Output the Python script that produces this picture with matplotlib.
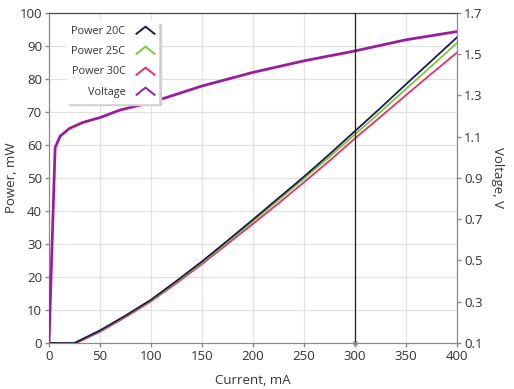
import matplotlib
matplotlib.use('Agg')
import matplotlib.pyplot as plt
from matplotlib.lines import Line2D
from matplotlib.path import Path

plt.rcParams['font.family'] = ['Open Sans', 'DejaVu Sans']

# Power vs current (mA -> mW)
current = [0, 25, 50, 75, 100, 125, 150, 175, 200, 225, 250, 275, 300, 325, 350, 375, 400]
power_20c = [0, 0, 3.8, 8.3, 13.1, 18.8, 24.7, 31.0, 37.4, 43.9, 50.4, 57.2, 64.2, 71.2, 78.4, 85.5, 92.6]
power_25c = [0, 0, 3.7, 8.1, 12.9, 18.5, 24.4, 30.6, 36.9, 43.3, 49.8, 56.4, 63.2, 70.0, 77.0, 83.9, 90.9]
current_30c = [0, 27, 50, 75, 100, 125, 150, 175, 200, 225, 250, 275, 300, 325, 350, 375, 400]
power_30c = [0, 0, 3.4, 7.8, 12.6, 18.1, 23.9, 30.0, 36.1, 42.3, 48.7, 55.2, 62.0, 68.5, 75.1, 81.6, 88.0]

# Voltage vs current (mA -> V)
current_v = [0, 6, 11, 20, 33, 50, 70, 100, 150, 200, 250, 300, 350, 400]
voltage = [0.10, 1.047, 1.103, 1.140, 1.169, 1.193, 1.230, 1.266, 1.346, 1.412, 1.468, 1.516, 1.570, 1.610]

cursor_x = 300

col_20 = '#1b1b4d'
col_25 = '#7cc63a'
col_30 = '#e0336e'
col_v = '#9a1d9e'
txt = '#333333'
spine = '#8a8a8a'

fig = plt.figure(figsize=(5.14, 3.89), dpi=100)
ax = fig.add_axes([0.0953, 0.1183, 0.7937, 0.8483])
ax2 = ax.twinx()

ax.set_xlim(0, 400)
ax.set_ylim(0, 100)
ax2.set_ylim(0.1, 1.7)

ax.set_xticks(range(0, 401, 50))
ax.set_yticks(range(0, 101, 10))
ax2.set_yticks([0.1, 0.3, 0.5, 0.7, 0.9, 1.1, 1.3, 1.5, 1.7])
ax2.set_yticklabels(['0.1', '0.3', '0.5', '0.7', '0.9', '1.1', '1.3', '1.5', '1.7'])

ax.grid(True, color='#e2e2e2', lw=0.9)
ax.set_axisbelow(True)

ax.plot(current_30c, power_30c, color=col_30, lw=1.3, zorder=3)
ax.plot(current, power_25c, color=col_25, lw=1.3, zorder=4)
ax.plot(current, power_20c, color=col_20, lw=1.3, zorder=5)
ax2.plot(current_v, voltage, color=col_v, lw=2.0, zorder=5)

ax2.axvline(cursor_x, color='#222222', lw=0.9, zorder=6)
ax2.plot([cursor_x], [0.1], marker='x', ms=3, color='#888888', clip_on=False, zorder=6)

for a in (ax, ax2):
    for s in a.spines.values():
        s.set_color(spine)
    a.spines['top'].set_color('#444444')
    a.tick_params(colors=spine, labelcolor=txt, labelsize=9.5, length=3, width=1, pad=2)

ax.set_xlabel('Current, mA', color=txt, fontsize=9.5)
ax.xaxis.set_label_coords(0.5, -0.095)
ax.set_ylabel('Power, mW', color=txt, fontsize=9.5)
ax.yaxis.set_label_coords(-0.075, 0.5)
ax2.set_ylabel('Voltage, V', color=txt, fontsize=9.5, rotation=270, va='center')
ax2.yaxis.set_label_coords(1.1, 0.5)

# legend with chevron glyphs
chev = Path([(-1, -0.4), (0, 0.4), (1, -0.4)], [Path.MOVETO, Path.LINETO, Path.LINETO])
names = ['Power 20C', 'Power 25C', 'Power 30C', 'Voltage']
cols = [col_20, col_25, col_30, col_v]
handles = [Line2D([], [], ls='none', marker=chev, ms=14, mfc='none', mec=c, mew=1.4) for c in cols]
leg = ax2.legend(handles, names, loc='upper left', bbox_to_anchor=(0.035, 0.985), markerfirst=False,
                 frameon=True, fancybox=False, shadow={'color': '#d0d0d0', 'alpha': 1, 'ox': 2, 'oy': -2},
                 fontsize=7.8, labelspacing=0.85, handlelength=1.5, handletextpad=1.1,
                 borderpad=0.45, borderaxespad=0.3, labelcolor=txt)
leg.get_frame().set_edgecolor('white')
leg.get_frame().set_facecolor('white')
leg.get_frame().set_alpha(1)

fig.savefig('out.png', dpi=100)
